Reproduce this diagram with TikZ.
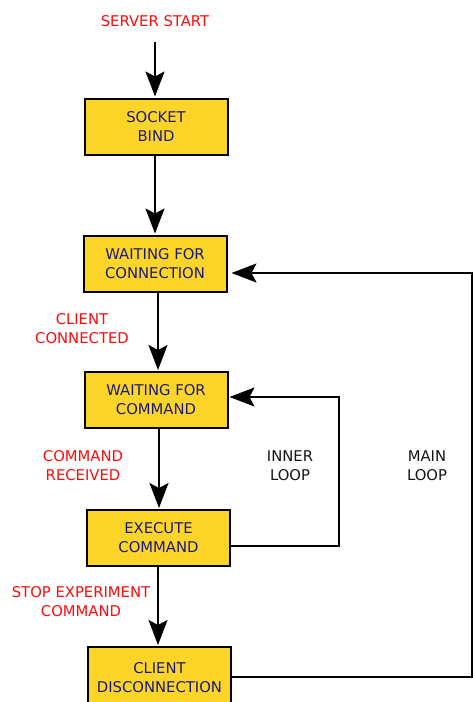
\documentclass[tikz,border=0pt]{standalone}
\usepackage{fontspec}
\setmainfont{DejaVu Sans}
\usetikzlibrary{arrows.meta}
\definecolor{boxfill}{RGB}{253,213,40}
\definecolor{boxtext}{RGB}{26,26,122}
\definecolor{evred}{RGB}{255,10,10}
\definecolor{looptext}{RGB}{20,20,20}
\begin{document}
\begin{tikzpicture}[x=1pt,y=-1pt,
  every node/.style={font=\fontsize{14.8}{19}\selectfont, align=center, inner sep=0pt},
  state/.style={draw=black, line width=2pt, fill=boxfill, text=boxtext,
                minimum width=143pt, minimum height=56pt},
  event/.style={text=evred},
  looplabel/.style={text=looptext},
  arr/.style={line width=2pt, -{Stealth[length=25pt,width=19pt,inset=5pt]}},
  wire/.style={line width=2pt}]
\useasboundingbox (0,0) rectangle (473,702);

% start label and states
\node[event] (start) at (155,21) {SERVER START};
\node[state] (bind) at (156,126.5) {SOCKET\\BIND};
\node[state] (waitconn) at (155,263.5) {WAITING FOR\\CONNECTION};
\node[state] (waitcmd) at (156,400) {WAITING FOR\\COMMAND};
\node[state] (exec) at (158.5,538) {EXECUTE\\COMMAND};
\node[state, minimum height=62pt] (disc) at (159.5,678) {CLIENT\\DISCONNECTION};

% transition labels
\node[event] (lconn) at (82,329) {CLIENT\\CONNECTED};
\node[event] (lrecv) at (83,466) {COMMAND\\RECEIVED};
\node[event] (lstop) at (81,602) {STOP EXPERIMENT\\COMMAND};
\node[looplabel] (linner) at (290,466) {INNER\\LOOP};
\node[looplabel] (lmain) at (427,466) {MAIN\\LOOP};

% forward transitions
\coordinate (startend) at (155,42);
\draw[arr, shorten >=1pt] (startend) -- (bind.north -| startend);
\draw[arr, shorten >=1pt] (bind.south -| waitconn.north) -- (waitconn.north);
\draw[arr, shorten >=1pt] ([xshift=3pt]waitconn.south) -- ([xshift=3pt]waitconn.south |- waitcmd.north);
\draw[arr, shorten >=1pt] ([xshift=3pt]waitcmd.south) -- ([xshift=3pt]waitcmd.south |- exec.north);
\draw[arr, shorten >=1pt] ([xshift=-0.5pt]exec.south) -- ([xshift=-0.5pt]exec.south |- disc.north);

% inner loop: back to waiting for command
\coordinate (innerturn) at (339,546);
\draw[arr, shorten >=1pt] ([yshift=-8pt]exec.east) -- (innerturn) |- ([yshift=3pt]waitcmd.east);

% main loop: back to waiting for connection
\coordinate (mainturn) at (472,677);
\draw[arr, shorten >=4pt] ([yshift=1pt]disc.east) -- (mainturn) |- ([yshift=-9.5pt]waitconn.east);
\end{tikzpicture}
\end{document}
